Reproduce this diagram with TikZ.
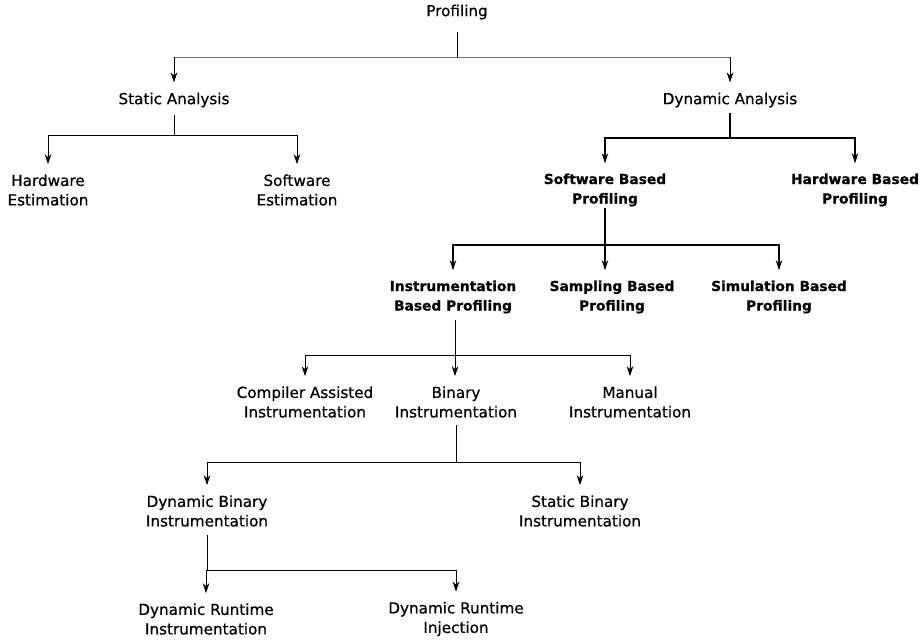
\documentclass[tikz,border=0pt]{standalone}
\usepackage{fontspec}
\setmainfont{DejaVu Sans}[BoldFeatures={FakeBold=0.6}]
\newfontfamily\regfont{DejaVu Sans}[FakeBold=0.6]
\usetikzlibrary{arrows.meta}
\tikzset{
  lbl/.style={align=center,font=\regfont\fontsize{15.2}{19.5}\selectfont,inner xsep=2pt,inner ysep=0pt},
  blbl/.style={lbl,font=\fontsize{13.8}{19.5}\selectfont\bfseries},
  ln/.style={draw=black,line width=0.8pt},
  gln/.style={draw=black!55,line width=1pt},
  thk/.style={draw=black,line width=1.4pt},
  arr/.style={-{Stealth[length=10pt,width=6.5pt,inset=3pt]}, shorten >=10pt},
}
\begin{document}
\begin{tikzpicture}[x=1pt,y=-1pt]
\useasboundingbox (0,0) rectangle (922,640);
% nodes
\node[lbl] (prof) at (457,12) {Profiling};
\node[lbl] (sa) at (174,100) {Static Analysis};
\node[lbl] (da) at (730,100) {Dynamic Analysis};
\node[lbl] (hwe) at (48,190) {Hardware\\Estimation};
\node[lbl] (swe) at (297,190) {Software\\Estimation};
\node[blbl] (sbp) at (605,190) {Software Based\\Profiling};
\node[blbl] (hbp) at (855,190) {Hardware Based\\Profiling};
\node[blbl] (ibp) at (453,297) {Instrumentation\\Based Profiling};
\node[blbl] (smp) at (612,297) {Sampling Based\\Profiling};
\node[blbl] (sim) at (779,297) {Simulation Based\\Profiling};
\node[lbl] (cai) at (305,402) {Compiler Assisted\\Instrumentation};
\node[lbl] (bi) at (456,402) {Binary\\Instrumentation};
\node[lbl] (mi) at (630,402) {Manual\\Instrumentation};
\node[lbl] (dbi) at (207,511) {Dynamic Binary\\Instrumentation};
\node[lbl] (sbi) at (580,511) {Static Binary\\Instrumentation};
\node[lbl] (dri) at (206,619) {Dynamic Runtime\\Instrumentation};
\node[lbl] (drj) at (456,619) {Dynamic Runtime\\Injection};
% junctions
\coordinate (j1) at (457,57);
\coordinate (j1l) at (sa |- j1);
\coordinate (j1r) at (da |- j1);
\coordinate (j2) at (174,135);
\coordinate (j3) at (730,138);
\coordinate (j4) at (605,245);
\coordinate (j5) at (455,355);
\coordinate (j6) at (456,462);
\coordinate (j7) at (207,570);
% connectors
\draw[gln] (j1l) -- (j1r);
\draw[ln] (prof.south |- 0,32) -- (j1);
\draw[ln,arr] (j1l) -- (sa.north);
\draw[ln,arr] (j1r) -- (da.north);
\draw[ln] (sa.south |- 0,115) -- (j2);
\draw[ln,arr] (j2) -| (hwe.north);
\draw[ln,arr] (j2) -| (swe.north);
\draw[thk] (da.south |- 0,113) -- (j3);
\draw[thk,arr] (j3) -| (sbp.north);
\draw[thk,arr] (j3) -| (hbp.north);
\draw[thk] (sbp.south |- 0,208) -- (j4);
\draw[thk,arr] (j4) -| (ibp.north);
\draw[thk,arr] (j4) -- (j4 |- smp.north);
\draw[thk,arr] (j4) -| (sim.north);
\draw[ln] (j5 |- 0,320) -- (j5);
\draw[ln,arr] (j5) -| (cai.north);
\draw[ln,arr] (j5) -- (j5 |- bi.north);
\draw[ln,arr] (j5) -| (mi.north);
\draw[ln] (j6 |- 0,425) -- (j6);
\draw[ln,arr] (j6) -| (dbi.north);
\draw[ln,arr] (j6) -| (sbi.north);
\draw[ln] (j7 |- 0,535) -- (j7);
\draw[ln,arr] (j7) -| (dri.north);
\draw[ln,arr] (j7) -| (drj.north);
\end{tikzpicture}
\end{document}
